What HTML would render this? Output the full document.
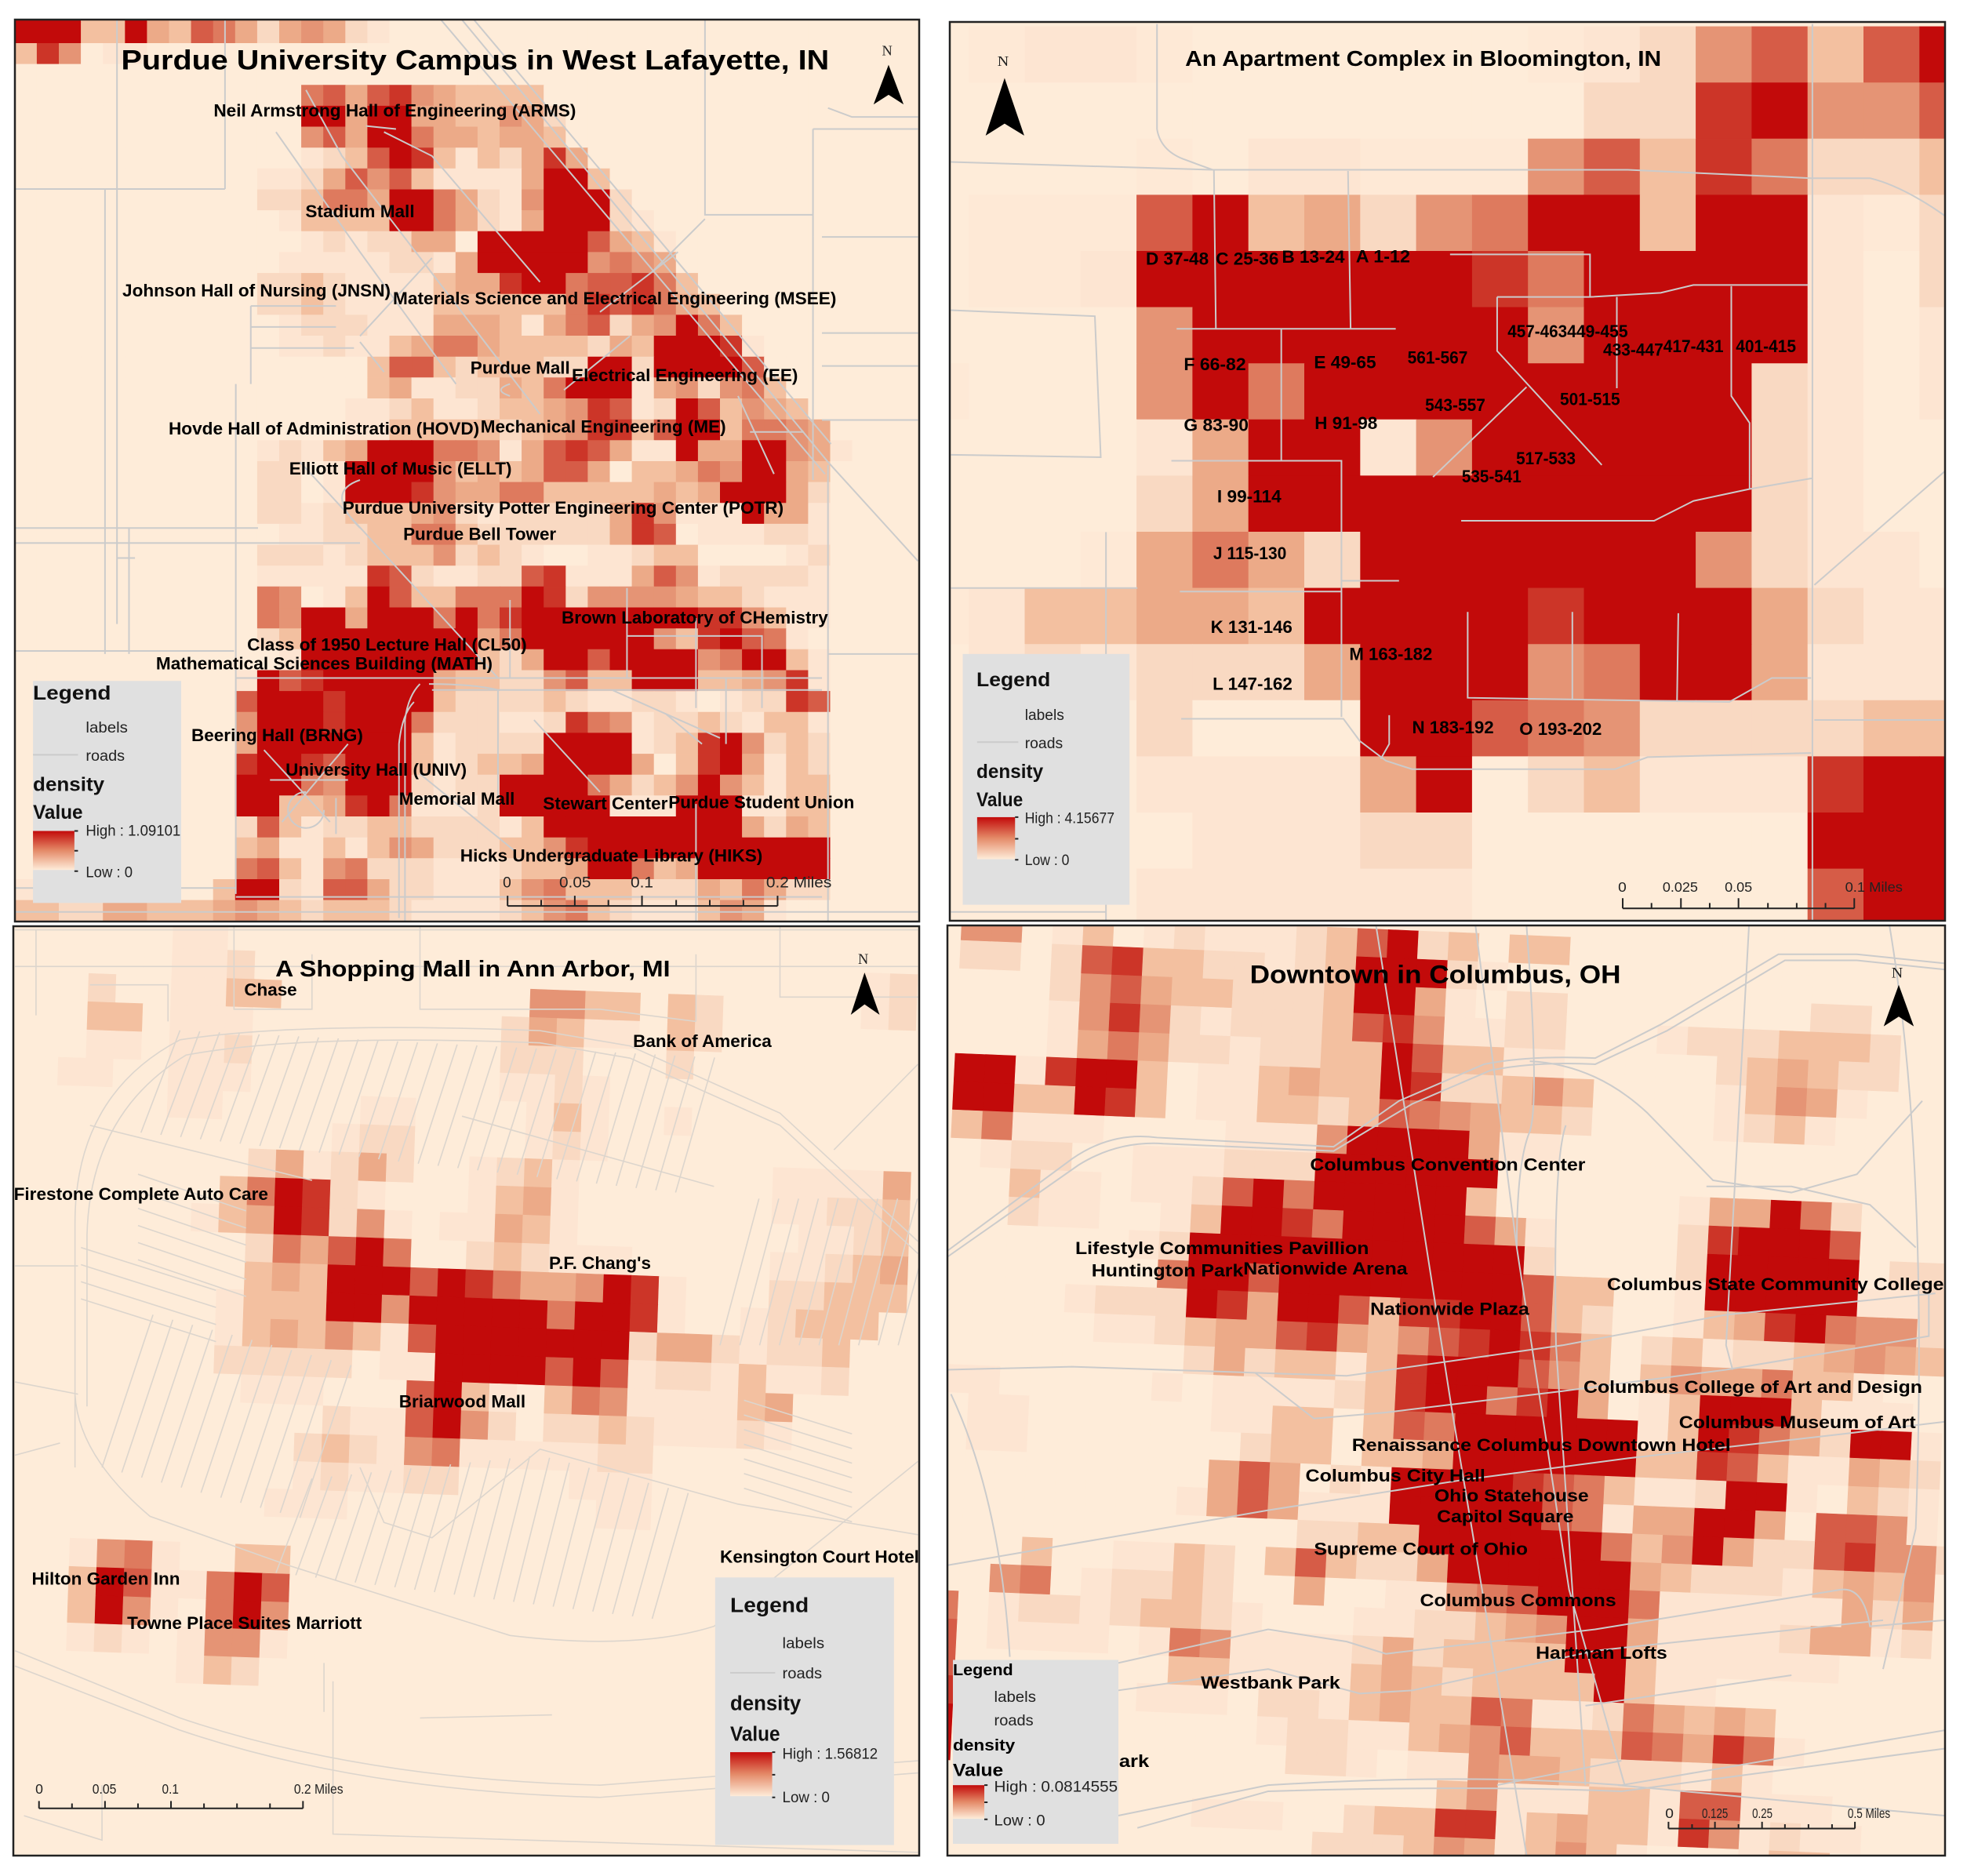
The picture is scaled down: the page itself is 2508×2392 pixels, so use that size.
<!DOCTYPE html>
<html lang="en">
<head>
<meta charset="utf-8">
<title>Density maps</title>
<style>
html,body{margin:0;padding:0;background:#fff}
svg{display:block}
text{font-family:"Liberation Sans",sans-serif;fill:#000}
.lb{font-weight:bold;font-size:29px}
.tt{font-weight:bold}
.lg{font-weight:bold;font-size:33px;fill:#111}
.ln{font-size:25px;fill:#222}
.sb{font-size:23px;fill:#222}
.n{font-family:"Liberation Serif",serif;font-size:24px;fill:#222}
.r{fill:none;stroke:#cbcbcb;stroke-width:2;vector-effect:non-scaling-stroke}
.r2{fill:none;stroke:#dcd5cd;stroke-width:1.6;vector-effect:non-scaling-stroke}
.t{fill:none;stroke:#222;stroke-width:2;vector-effect:non-scaling-stroke}
</style>
</head>
<body>
<svg xmlns="http://www.w3.org/2000/svg" width="2508" height="2392" viewBox="0 0 2508 2392">
<defs>
<linearGradient id="ramp" x1="0" y1="0" x2="0" y2="1"><stop offset="0" stop-color="#c20a0a"/><stop offset="0.5" stop-color="#e48a68"/><stop offset="1" stop-color="#feecd9"/></linearGradient>
</defs>
<rect x="0" y="0" width="2508" height="2392" fill="#fff"/>

<!-- PANEL 1 -->
<svg x="19" y="25" width="1153" height="1150" viewBox="19 25 1153 1150">
<rect x="19" y="25" width="1153" height="1150" fill="#feecd9"/>
<g id="purdue-cells"></g>
<g transform="scale(0.765)">
<path class="r" d="M25 315H375M195 33V1040M175 315V1090M25 1085H390M375 33V315M393 640V1490M25 880H430M25 905H600M215 880V1090M195 930H225M418 510V640M418 510H560M418 545H560M418 580H590M790 33L1385 740M770 33L1380 770M735 33L1375 790M1380 770L1530 935M1380 775V1536M1530 610H1370M1355 215V800M1355 215H1530M1175 33V358H1355M1380 180L1420 195H1530M1370 395H1530M1370 555H1530M1370 700H1530M1175 365L1090 450M1130 420L1000 520M1530 1090H1380M393 1130H1370M700 1140Q680 1160 675 1200V1536M720 1150H1370M690 1170Q670 1190 665 1240V1530M393 1495H1370M25 1480H393M25 1520H1530M510 150L570 260L900 690M600 560L720 430M500 770L830 1130M640 220L720 260L900 470M460 220L600 420L760 640M610 210L660 215M600 570L640 620M850 1000V1130M1045 980V1130M1160 1030V1180M1045 1060H1270V1180M850 640Q820 650 850 660M600 800Q540 820 600 880M715 1140Q790 1140 830 1150V1330M890 1200L1000 1320M700 1290L860 1420M1020 1150L1200 1230M1230 660L1290 790M1250 720H1340M940 650L1050 560M1160 1340V1580M1210 1130V1240M560 1330V1390M450 1300H580M510 1320A30 30 0 1 0 540 1350M440 1250L550 1370M580 1240L470 1370M1110 1190L1170 1240"/>
</g>
<g transform="scale(0.765)">
<text class="tt" font-size="46" x="202" y="116" textLength="1180" lengthAdjust="spacingAndGlyphs">Purdue University Campus in West Lafayette, IN</text>
<text class="lb" x="356" y="194" textLength="604" lengthAdjust="spacingAndGlyphs">Neil Armstrong Hall of Engineering (ARMS)</text>
<text class="lb" x="509" y="362" textLength="182" lengthAdjust="spacingAndGlyphs">Stadium Mall</text>
<text class="lb" x="204" y="494" textLength="447" lengthAdjust="spacingAndGlyphs">Johnson Hall of Nursing (JNSN)</text>
<text class="lb" x="655" y="507" textLength="739" lengthAdjust="spacingAndGlyphs">Materials Science and Electrical Engineering (MSEE)</text>
<text class="lb" x="784" y="623" textLength="166" lengthAdjust="spacingAndGlyphs">Purdue Mall</text>
<text class="lb" x="953" y="635" textLength="377" lengthAdjust="spacingAndGlyphs">Electrical Engineering (EE)</text>
<text class="lb" x="281" y="724" textLength="518" lengthAdjust="spacingAndGlyphs">Hovde Hall of Administration (HOVD)</text>
<text class="lb" x="801" y="721" textLength="409" lengthAdjust="spacingAndGlyphs">Mechanical Engineering (ME)</text>
<text class="lb" x="482" y="791" textLength="371" lengthAdjust="spacingAndGlyphs">Elliott Hall of Music (ELLT)</text>
<text class="lb" x="571" y="856" textLength="735" lengthAdjust="spacingAndGlyphs">Purdue University Potter Engineering Center (POTR)</text>
<text class="lb" x="672" y="900" textLength="255" lengthAdjust="spacingAndGlyphs">Purdue Bell Tower</text>
<text class="lb" x="936" y="1039" textLength="444" lengthAdjust="spacingAndGlyphs">Brown Laboratory of CHemistry</text>
<text class="lb" x="412" y="1084" textLength="466" lengthAdjust="spacingAndGlyphs">Class of 1950 Lecture Hall (CL50)</text>
<text class="lb" x="260" y="1116" textLength="561" lengthAdjust="spacingAndGlyphs">Mathematical Sciences Building (MATH)</text>
<text class="lb" x="319" y="1235" textLength="286" lengthAdjust="spacingAndGlyphs">Beering Hall (BRNG)</text>
<text class="lb" x="476" y="1293" textLength="302" lengthAdjust="spacingAndGlyphs">University Hall (UNIV)</text>
<text class="lb" x="665" y="1341" textLength="193" lengthAdjust="spacingAndGlyphs">Memorial Mall</text>
<text class="lb" x="905" y="1349" textLength="208" lengthAdjust="spacingAndGlyphs">Stewart Center</text>
<text class="lb" x="1114" y="1347" textLength="310" lengthAdjust="spacingAndGlyphs">Purdue Student Union</text>
<text class="lb" x="767" y="1436" textLength="504" lengthAdjust="spacingAndGlyphs">Hicks Undergraduate Library (HIKS)</text>
<text class="n" x="1470" y="92">N</text>
<polygon points="1481,108 1506,174 1481,158 1456,174" fill="#000"/>
<g>
<rect x="55" y="1135" width="247" height="370" fill="#e0e0e0"/>
<text class="lg" x="55" y="1166" textLength="130" lengthAdjust="spacingAndGlyphs">Legend</text>
<text class="ln" x="143" y="1221" textLength="70" lengthAdjust="spacingAndGlyphs">labels</text>
<line class="r" x1="55" y1="1258" x2="130" y2="1258"/>
<text class="ln" x="143" y="1268" textLength="65" lengthAdjust="spacingAndGlyphs">roads</text>
<text class="lg" x="55" y="1318" textLength="119" lengthAdjust="spacingAndGlyphs">density</text>
<text class="lg" x="55" y="1365" textLength="83" lengthAdjust="spacingAndGlyphs">Value</text>
<rect x="55" y="1385" width="69" height="65" fill="url(#ramp)"/>
<path class="t" d="M124 1385h6M124 1418h6M124 1452h6"/>
<text class="ln" x="143" y="1393" textLength="158" lengthAdjust="spacingAndGlyphs">High : 1.09101</text>
<text class="ln" x="143" y="1462" textLength="78" lengthAdjust="spacingAndGlyphs">Low : 0</text>
</g>
<g>
<path class="t" d="M846 1510H1296M846 1493V1510M902 1500V1510M958 1493V1510M1014 1500V1510M1070 1493V1510M1127 1500V1510M1183 1500V1510M1239 1500V1510M1296 1493V1510"/>
<text class="ln" x="838" y="1479">0</text>
<text class="ln" x="932" y="1479" textLength="53" lengthAdjust="spacingAndGlyphs">0.05</text>
<text class="ln" x="1051" y="1479" textLength="38" lengthAdjust="spacingAndGlyphs">0.1</text>
<text class="ln" x="1277" y="1479" textLength="109" lengthAdjust="spacingAndGlyphs">0.2 Miles</text>
</g>
</g>
</svg>
<rect x="19" y="25" width="1153" height="1150" fill="none" stroke="#222" stroke-width="2.5"/>

<!-- PANEL 2 -->
<svg x="1211" y="28" width="1269" height="1146" viewBox="1211 28 1269 1146">
<rect x="1211" y="28" width="1269" height="1146" fill="#feecd9"/>
<g id="bloomington-cells"></g>
<g transform="translate(1200,0) scale(0.834,0.765)">
<path class="r" d="M330 40V215Q335 250 370 265L415 283M15 270L415 283H1050L1330 297H1420Q1470 310 1535 360M417 283L420 547M622 285L626 547M360 548H695M520 548V767M352 768H612V1195M612 968H700M365 986H612M367 1198H615L640 1235L680 1268L720 1282H1030L1080 1262L1330 1255M685 1192V1240L672 1265M778 424H992V495M850 495H992L1100 488L1150 475H1325M850 495V585L1010 775M1033 495V647M1208 477V660L1236 705V815M895 645L752 795M795 868H1090L1150 835L1236 815L1332 797M805 1020V1163L1205 1170L1270 1130H1330M965 1020V1165M1127 1022L1125 1170M1332 40V1535M1335 975L1535 785M1335 1200H1535M15 517L235 527L244 762L15 758M15 980H300M252 887V1535M15 1520H252"/>
</g>
<g transform="translate(1200,0) scale(0.834,0.765)">
<text class="tt" font-size="36" x="373" y="110" textLength="728" lengthAdjust="spacingAndGlyphs">An Apartment Complex in Bloomington, IN</text>
<text class="lb" x="313" y="441" textLength="96" lengthAdjust="spacingAndGlyphs">D 37-48</text>
<text class="lb" x="420" y="441" textLength="96" lengthAdjust="spacingAndGlyphs">C 25-36</text>
<text class="lb" x="521" y="438" textLength="96" lengthAdjust="spacingAndGlyphs">B 13-24</text>
<text class="lb" x="634" y="437" textLength="83" lengthAdjust="spacingAndGlyphs">A 1-12</text>
<text class="lb" x="866" y="562" textLength="91" lengthAdjust="spacingAndGlyphs">457-463</text>
<text class="lb" x="957" y="562" textLength="93" lengthAdjust="spacingAndGlyphs">449-455</text>
<text class="lb" x="1012" y="593" textLength="92" lengthAdjust="spacingAndGlyphs">433-447</text>
<text class="lb" x="1104" y="587" textLength="92" lengthAdjust="spacingAndGlyphs">417-431</text>
<text class="lb" x="1215" y="587" textLength="92" lengthAdjust="spacingAndGlyphs">401-415</text>
<text class="lb" x="371" y="617" textLength="95" lengthAdjust="spacingAndGlyphs">F 66-82</text>
<text class="lb" x="570" y="614" textLength="95" lengthAdjust="spacingAndGlyphs">E 49-65</text>
<text class="lb" x="713" y="606" textLength="92" lengthAdjust="spacingAndGlyphs">561-567</text>
<text class="lb" x="740" y="685" textLength="92" lengthAdjust="spacingAndGlyphs">543-557</text>
<text class="lb" x="946" y="675" textLength="92" lengthAdjust="spacingAndGlyphs">501-515</text>
<text class="lb" x="371" y="718" textLength="99" lengthAdjust="spacingAndGlyphs">G 83-90</text>
<text class="lb" x="571" y="715" textLength="96" lengthAdjust="spacingAndGlyphs">H 91-98</text>
<text class="lb" x="879" y="774" textLength="91" lengthAdjust="spacingAndGlyphs">517-533</text>
<text class="lb" x="796" y="804" textLength="91" lengthAdjust="spacingAndGlyphs">535-541</text>
<text class="lb" x="422" y="837" textLength="98" lengthAdjust="spacingAndGlyphs">I 99-114</text>
<text class="lb" x="416" y="932" textLength="112" lengthAdjust="spacingAndGlyphs">J 115-130</text>
<text class="lb" x="412" y="1055" textLength="125" lengthAdjust="spacingAndGlyphs">K 131-146</text>
<text class="lb" x="624" y="1100" textLength="127" lengthAdjust="spacingAndGlyphs">M 163-182</text>
<text class="lb" x="415" y="1150" textLength="122" lengthAdjust="spacingAndGlyphs">L 147-162</text>
<text class="lb" x="720" y="1222" textLength="125" lengthAdjust="spacingAndGlyphs">N 183-192</text>
<text class="lb" x="884" y="1225" textLength="126" lengthAdjust="spacingAndGlyphs">O 193-202</text>
<text class="n" x="86" y="110">N</text>
<polygon points="97,130 127,226 97,206 68,226" fill="#000"/>
<g>
<rect x="33" y="1090" width="255" height="418" fill="#e0e0e0"/>
<text class="lg" x="54" y="1144" textLength="113" lengthAdjust="spacingAndGlyphs">Legend</text>
<text class="ln" x="128" y="1200" textLength="60" lengthAdjust="spacingAndGlyphs">labels</text>
<line class="r" x1="55" y1="1237" x2="118" y2="1237"/>
<text class="ln" x="128" y="1247" textLength="58" lengthAdjust="spacingAndGlyphs">roads</text>
<text class="lg" x="54" y="1297" textLength="102" lengthAdjust="spacingAndGlyphs">density</text>
<text class="lg" x="54" y="1344" textLength="71" lengthAdjust="spacingAndGlyphs">Value</text>
<rect x="55" y="1362" width="58" height="70" fill="url(#ramp)"/>
<path class="t" d="M113 1362h5M113 1398h5M113 1433h5"/>
<text class="ln" x="128" y="1372" textLength="137" lengthAdjust="spacingAndGlyphs">High : 4.15677</text>
<text class="ln" x="128" y="1442" textLength="68" lengthAdjust="spacingAndGlyphs">Low : 0</text>
</g>
<g>
<path class="t" d="M1042 1514H1396M1042 1497V1514M1086 1505V1514M1131 1497V1514M1175 1505V1514M1219 1497V1514M1264 1505V1514M1308 1505V1514M1352 1505V1514M1396 1497V1514"/>
<text class="sb" x="1035" y="1486">0</text>
<text class="sb" x="1103" y="1486" textLength="54" lengthAdjust="spacingAndGlyphs">0.025</text>
<text class="sb" x="1198" y="1486" textLength="42" lengthAdjust="spacingAndGlyphs">0.05</text>
<text class="sb" x="1382" y="1486" textLength="88" lengthAdjust="spacingAndGlyphs">0.1 Miles</text>
</g>
</g>
</svg>
<rect x="1211" y="28" width="1269" height="1146" fill="none" stroke="#222" stroke-width="2.5"/>

<!-- PANEL 3 -->
<svg x="17" y="1181" width="1155" height="1185" viewBox="17 1181 1155 1185">
<rect x="17" y="1181" width="1155" height="1185" fill="#feecd9"/>
<g id="annarbor-cells"></g>
<g transform="translate(0,1170) scale(0.765,0.779)">
<path id="annarbor-stripes" class="r2" d=""/>
<path class="r2" d="M125 900V500Q125 290 300 200Q500 170 900 185L1050 210L1300 320L1530 530M145 800V520Q150 320 310 225Q500 190 900 205L1050 230L1300 340L1530 550M125 780Q130 880 250 980L480 1060L850 1175Q1060 1200 1190 1160L1380 1010L1530 890M25 1200L300 1310Q600 1410 1000 1420L1530 1380M25 1225L300 1330Q600 1430 1000 1440L1530 1400M25 80H1530M25 20H1530M390 14V150H520V60M60 20V160M150 110H280V170M700 14V150H1000L1160 170M1160 60V170M1300 14V130H1530M25 570H130M25 880L100 860M150 340L520 430M770 325L1190 440M555 1250V1500L1530 1530M700 1310L920 1305M40 1470L170 1510V1420M1390 380L1530 240M25 760L130 780M540 1220V1300M600 900L640 990L720 1015L900 870L1230 960L1530 1010"/>
</g>
<g transform="translate(0,1170) scale(0.765,0.779)">
<text class="tt" font-size="37" x="459" y="96" textLength="658" lengthAdjust="spacingAndGlyphs">A Shopping Mall in Ann Arbor, MI</text>
<text class="lb" x="407" y="128" textLength="88" lengthAdjust="spacingAndGlyphs">Chase</text>
<text class="lb" x="1055" y="212" textLength="231" lengthAdjust="spacingAndGlyphs">Bank of America</text>
<text class="lb" x="23" y="462" textLength="424" lengthAdjust="spacingAndGlyphs">Firestone Complete Auto Care</text>
<text class="lb" x="915" y="575" textLength="170" lengthAdjust="spacingAndGlyphs">P.F. Chang's</text>
<text class="lb" x="665" y="802" textLength="211" lengthAdjust="spacingAndGlyphs">Briarwood Mall</text>
<text class="lb" x="1200" y="1056" textLength="332" lengthAdjust="spacingAndGlyphs">Kensington Court Hotel</text>
<text class="lb" x="53" y="1092" textLength="247" lengthAdjust="spacingAndGlyphs">Hilton Garden Inn</text>
<text class="lb" x="212" y="1164" textLength="391" lengthAdjust="spacingAndGlyphs">Towne Place Suites Marriott</text>
<text class="n" x="1430" y="76">N</text>
<polygon points="1441,90 1466,159 1441,142 1418,159" fill="#000"/>
<g>
<rect x="1192" y="1080" width="298" height="438" fill="#e0e0e0"/>
<text class="lg" x="1217" y="1137" textLength="131" lengthAdjust="spacingAndGlyphs">Legend</text>
<text class="ln" x="1304" y="1196" textLength="70" lengthAdjust="spacingAndGlyphs">labels</text>
<line class="r" x1="1217" y1="1236" x2="1292" y2="1236"/>
<text class="ln" x="1304" y="1245" textLength="66" lengthAdjust="spacingAndGlyphs">roads</text>
<text class="lg" x="1217" y="1297" textLength="118" lengthAdjust="spacingAndGlyphs">density</text>
<text class="lg" x="1217" y="1347" textLength="83" lengthAdjust="spacingAndGlyphs">Value</text>
<rect x="1217" y="1366" width="70" height="72" fill="url(#ramp)"/>
<path class="t" d="M1287 1366h5M1287 1403h5M1287 1440h5"/>
<text class="ln" x="1304" y="1377" textLength="159" lengthAdjust="spacingAndGlyphs">High : 1.56812</text>
<text class="ln" x="1304" y="1448" textLength="79" lengthAdjust="spacingAndGlyphs">Low : 0</text>
</g>
<g>
<path class="t" d="M65 1458H505M65 1446V1458M120 1450V1458M175 1446V1458M230 1450V1458M285 1446V1458M340 1450V1458M395 1450V1458M450 1450V1458M505 1446V1458"/>
<text class="sb" x="59" y="1434">0</text>
<text class="sb" x="154" y="1434" textLength="40" lengthAdjust="spacingAndGlyphs">0.05</text>
<text class="sb" x="270" y="1434" textLength="28" lengthAdjust="spacingAndGlyphs">0.1</text>
<text class="sb" x="490" y="1434" textLength="82" lengthAdjust="spacingAndGlyphs">0.2 Miles</text>
</g>
</g>
</svg>
<rect x="17" y="1181" width="1155" height="1185" fill="none" stroke="#222" stroke-width="2.5"/>

<!-- PANEL 4 -->
<svg x="1208" y="1180" width="1272" height="1186" viewBox="1208 1180 1272 1186">
<rect x="1208" y="1180" width="1272" height="1186" fill="#feecd9"/>
<g id="columbus-cells"></g>
<g transform="translate(1200,1170) scale(0.834,0.779)">
<path class="r" d="M665 14L780 800L895 1535M817 14L880 540L960 1100L1045 1420M895 14Q915 300 900 350Q880 400 880 540M955 340Q935 400 940 700L985 1420M1235 14L1200 700L1210 740M1450 14Q1510 400 1490 1000L1440 1230M10 545L200 395Q260 350 330 360L600 375L700 300L830 240Q900 225 1000 230L1100 175L1280 60H1400L1535 75M10 555L210 405Q270 365 340 370L600 382L720 305L840 250Q910 235 1000 240L1110 185L1290 70H1400L1535 85M900 235Q1000 240 1080 320L1180 430L1300 450L1400 420L1500 300M1170 440H1300L1420 470L1490 540M10 740L200 735L480 745L620 750L950 700L1200 650L1520 615M1510 615V685L1200 740L950 775L680 810M480 745L570 820L680 810M10 1060L500 970L800 920L1050 885L1380 845L1535 825M250 1225L500 1165L620 1185L680 1205L1000 1165L1375 1100Q1410 1095 1420 1160L1535 1150M270 1265L500 1230L640 1270L720 1265L1000 1200L1440 1150M270 1470L500 1420Q800 1400 1040 1420L1535 1330M300 1490L500 1430Q800 1420 1040 1430L1535 1360M850 1420L1040 1380M1035 1420L1535 1470M985 1290L1300 1240M15 780Q90 950 105 1210"/>
</g>
<g transform="translate(1200,1170) scale(0.834,0.779)">
<text class="tt" font-size="42" x="472" y="107" textLength="567" lengthAdjust="spacingAndGlyphs">Downtown in Columbus, OH</text>
<text class="lb" x="564" y="414" textLength="421" lengthAdjust="spacingAndGlyphs">Columbus Convention Center</text>
<text class="lb" x="205" y="551" textLength="449" lengthAdjust="spacingAndGlyphs">Lifestyle Communities Pavillion</text>
<text class="lb" x="230" y="587" textLength="232" lengthAdjust="spacingAndGlyphs">Huntington Park</text>
<text class="lb" x="462" y="584" textLength="251" lengthAdjust="spacingAndGlyphs">Nationwide Arena</text>
<text class="lb" x="656" y="650" textLength="243" lengthAdjust="spacingAndGlyphs">Nationwide Plaza</text>
<text class="lb" x="1018" y="610" textLength="515" lengthAdjust="spacingAndGlyphs">Columbus State Community College</text>
<text class="lb" x="982" y="778" textLength="518" lengthAdjust="spacingAndGlyphs">Columbus College of Art and Design</text>
<text class="lb" x="1128" y="836" textLength="362" lengthAdjust="spacingAndGlyphs">Columbus Museum of Art</text>
<text class="lb" x="628" y="873" textLength="579" lengthAdjust="spacingAndGlyphs">Renaissance Columbus Downtown Hotel</text>
<text class="lb" x="557" y="923" textLength="275" lengthAdjust="spacingAndGlyphs">Columbus City Hall</text>
<text class="lb" x="754" y="956" textLength="236" lengthAdjust="spacingAndGlyphs">Ohio Statehouse</text>
<text class="lb" x="758" y="990" textLength="209" lengthAdjust="spacingAndGlyphs">Capitol Square</text>
<text class="lb" x="570" y="1043" textLength="327" lengthAdjust="spacingAndGlyphs">Supreme Court of Ohio</text>
<text class="lb" x="732" y="1127" textLength="300" lengthAdjust="spacingAndGlyphs">Columbus Commons</text>
<text class="lb" x="909" y="1213" textLength="201" lengthAdjust="spacingAndGlyphs">Hartman Lofts</text>
<text class="lb" x="397" y="1262" textLength="213" lengthAdjust="spacingAndGlyphs">Westbank Park</text>
<text class="lb" x="272" y="1390" textLength="46" lengthAdjust="spacingAndGlyphs">ark</text>
<text class="n" x="1453" y="98">N</text>
<polygon points="1464,110 1487,178 1464,162 1441,178" fill="#000"/>
<g>
<rect x="18" y="1215" width="253" height="301" fill="#e0e0e0"/>
<text class="lb" style="font-size:26px" x="18" y="1240" textLength="92" lengthAdjust="spacingAndGlyphs">Legend</text>
<text class="ln" x="81" y="1284" textLength="64" lengthAdjust="spacingAndGlyphs">labels</text>
<text class="ln" x="81" y="1322" textLength="60" lengthAdjust="spacingAndGlyphs">roads</text>
<text class="lb" style="font-size:26px" x="18" y="1363" textLength="95" lengthAdjust="spacingAndGlyphs">density</text>
<text class="lb" style="font-size:28px" x="18" y="1405" textLength="77" lengthAdjust="spacingAndGlyphs">Value</text>
<rect x="18" y="1420" width="48" height="55" fill="url(#ramp)"/>
<path class="t" d="M66 1420h5M66 1448h5M66 1476h5"/>
<text class="ln" x="81" y="1431" textLength="189" lengthAdjust="spacingAndGlyphs">High : 0.0814555</text>
<text class="ln" x="81" y="1486" textLength="78" lengthAdjust="spacingAndGlyphs">Low : 0</text>
</g>
<g>
<path class="t" d="M1112 1491H1397M1112 1480V1491M1148 1484V1491M1183 1480V1491M1219 1484V1491M1255 1480V1491M1290 1484V1491M1326 1484V1491M1362 1484V1491M1397 1480V1491"/>
<text class="sb" x="1107" y="1474">0</text>
<text class="sb" x="1163" y="1474" textLength="40" lengthAdjust="spacingAndGlyphs">0.125</text>
<text class="sb" x="1240" y="1474" textLength="31" lengthAdjust="spacingAndGlyphs">0.25</text>
<text class="sb" x="1386" y="1474" textLength="65" lengthAdjust="spacingAndGlyphs">0.5 Miles</text>
</g>
</g>
</svg>
<rect x="1208" y="1180" width="1272" height="1186" fill="none" stroke="#222" stroke-width="2.5"/>
</svg>

<script>
// Density levels (0 = none, 9 = highest class) per grid row; missing trailing cells are 0.
const purdueDensity = [
[9,9,9,3,3,9,4,3,7,6,4,2,4,5,4,2,1],
[9,9,9,3,3,9,4,3,7,6,4,2,4,5,4,2,1],
[3,8,5,0,1,1],
[],
[0,0,0,0,0,0,0,0,0,0,0,0,0,6,7,4,7,8,5,4,3,3,3,3],
[0,0,0,0,0,0,0,0,0,0,0,0,0,9,9,4,9,9,4,4,3,3,5,4,2],
[0,0,0,0,0,0,0,0,0,0,0,0,0,5,7,4,9,9,6,4,4,3,4,4,3],
[0,0,0,0,0,0,0,0,0,0,0,0,0,1,2,3,7,9,8,3,1,3,2,4,8,4],
[0,0,0,0,0,0,0,0,0,0,0,1,1,2,4,7,5,7,3,1,1,1,1,4,9,9,3],
[0,0,0,0,0,0,0,0,0,0,0,2,2,3,6,6,4,9,9,6,4,2,1,5,9,9,9,2],
[0,0,0,0,0,0,0,0,0,0,0,0,1,3,3,3,3,9,9,6,4,2,1,4,9,9,9,2,1],
[0,0,0,0,0,0,0,0,0,0,0,0,0,1,2,1,2,2,4,4,0,9,9,9,9,9,7,4,3,1],
[0,0,0,0,0,0,0,0,0,0,0,0,1,1,1,1,1,2,2,1,4,9,9,9,9,9,5,6,5,4],
[0,0,0,0,0,0,0,0,0,0,0,2,2,3,2,1,1,1,1,3,4,4,8,9,9,6,7,7,8,6,3],
[0,0,0,0,0,0,0,0,0,0,0,2,2,3,2,1,1,1,1,3,3,3,3,3,3,6,8,7,8,6,4,3],
[0,0,0,0,0,0,0,0,0,0,0,0,1,2,2,2,1,1,1,4,4,4,3,1,4,6,7,2,4,5,9,6,3],
[0,0,0,0,0,0,0,0,0,0,0,0,1,1,2,1,1,3,4,6,6,4,3,3,3,3,2,4,3,9,9,9,8,1],
[0,0,0,0,0,0,0,0,0,0,0,0,0,0,0,0,3,7,7,3,2,3,3,3,2,2,9,9,2,9,9,9,9,7],
[0,0,0,0,0,0,0,0,0,0,0,0,0,0,0,0,3,4,1,1,2,2,4,3,6,9,9,9,1,4,5,2,5,6,3],
[0,0,0,0,0,0,0,0,0,0,0,0,0,0,0,1,1,2,3,1,1,2,3,3,4,5,8,7,1,2,9,7,3,5,4,3],
[0,0,0,0,0,0,0,0,0,0,0,0,0,0,0,1,1,3,3,3,3,3,2,3,4,5,8,8,3,7,9,9,3,6,6,5,4],
[0,0,0,0,0,0,0,0,0,0,0,1,2,1,3,4,9,9,9,6,6,5,1,4,7,8,7,4,1,1,9,4,4,9,9,5,4,1],
[0,0,0,0,0,0,0,0,0,0,0,2,2,0,1,9,9,9,9,5,3,4,3,4,7,7,4,0,3,3,4,6,5,9,9,4,3],
[0,0,0,0,0,0,0,0,0,0,0,2,2,0,1,9,9,9,8,5,4,4,6,6,3,3,3,3,3,4,3,4,9,9,9,4,2],
[0,0,0,0,0,0,0,0,0,0,0,2,2,1,2,3,3,3,4,5,2,1,2,2,2,2,2,4,8,5,1,1,1,9,4,4,1],
[0,0,0,0,0,0,0,0,0,0,0,0,1,1,2,2,3,3,6,6,3,2,2,2,2,2,2,4,8,7,0,1,1,1,2,2,1],
[0,0,0,0,0,0,0,0,0,0,0,2,2,2,1,2,3,3,3,5,2,3,2,1,0,0,1,1,2,3,3,0,0,0,0,1,2],
[0,0,0,0,0,0,0,0,0,0,0,1,1,1,1,1,8,7,2,1,1,2,2,7,8,1,1,1,4,7,5,1,2,2,2,2,1],
[0,0,0,0,0,0,0,0,0,0,0,6,5,0,1,3,9,7,3,3,6,6,6,9,8,2,5,5,5,5,4,3,3,2,1,1,1],
[0,0,0,0,0,0,0,0,0,0,0,6,5,9,9,4,9,9,9,6,9,6,8,9,9,9,9,9,9,9,9,8,8,5,3,1,1],
[0,0,0,0,0,0,0,0,0,0,0,2,3,9,9,9,9,9,9,9,9,4,6,9,9,9,9,9,9,5,3,8,9,7,6,1],
[0,0,0,0,0,0,0,0,0,0,0,0,1,9,9,9,9,9,9,9,9,3,2,4,9,9,7,9,9,9,9,5,6,9,9,3,1],
[0,0,0,0,0,0,0,0,0,0,1,9,7,8,9,9,9,9,9,4,3,3,2,2,5,7,3,3,9,9,9,3,3,4,5,8,1],
[0,0,0,0,0,0,0,0,0,0,7,9,9,9,8,9,9,9,9,3,2,2,2,2,3,2,1,1,2,2,1,0,1,2,2,8,7],
[0,0,0,0,0,0,0,0,0,0,5,9,9,9,8,9,9,9,6,2,2,2,1,1,2,8,6,5,1,2,2,3,2,1,3,3,1],
[0,0,0,0,0,0,0,0,0,0,4,9,9,9,9,9,9,9,3,1,2,2,2,2,9,9,9,9,1,2,3,8,9,5,2,3,2],
[0,0,0,0,0,0,0,0,0,0,8,9,9,8,7,9,9,9,3,1,2,3,3,4,9,9,9,9,4,0,3,8,9,4,1,3,2],
[0,0,0,0,0,0,0,0,0,0,9,9,9,6,5,9,9,9,2,1,2,2,9,9,9,9,6,4,2,3,5,9,5,3,1,3,3],
[0,0,0,0,0,0,0,0,0,0,9,9,3,3,4,8,9,6,1,1,1,2,9,9,9,9,9,1,1,1,9,9,9,1,1,3,3],
[0,0,0,0,0,0,0,0,0,0,2,7,3,1,2,2,3,3,2,2,2,2,1,3,9,9,9,9,9,9,9,9,9,4,2,4,3],
[0,0,0,0,0,0,0,0,0,0,3,4,1,1,3,1,3,5,4,2,2,2,3,3,5,8,9,9,9,9,9,9,9,9,9,9,9],
[0,0,0,0,0,0,0,0,0,0,6,7,3,1,5,6,2,2,2,1,1,1,2,3,3,4,9,9,6,3,4,9,9,9,9,9,9],
[1,1,1,0,0,0,0,0,0,3,9,9,2,1,7,7,4,2,2,1,1,1,3,5,6,3,3,3,2,2,2,4,3,6,4,2,2],
[3,3,2,2,4,4,3,3,3,4,5,4,3,2,3,3,3,2,1,1,1,1,2,3,5,6,3,2,1,1,1,3,5,4,1]
];
const bloomingtonDensity = [
[],
[0,0.5,1,1,0.5,0,0,0,0,0,0,0.5,1,2,5,7,3,7,9],
[0,0,0,0,0,0,0,0,0,0,0,0,2,2,8,9,5,5,7],
[0,0,0,0,0.5,0,1,1,0.5,0.5,0.5,5,7,3,8,6,2,2,3],
[0,0.5,0.5,0.5,7,9,3,4,2,5,6,9,9,3,9,9,1,0.5,2],
[0,0.5,0.5,1,9,9,9,9,9,9,8,6,9,9,9,9,1,0,2],
[0,0,0,0,5,9,9,9,9,9,9,5,9,9,9,9,1,0,1],
[0.5,0,0,0,5,9,6,9,9,9,9,9,9,9,9,2,1,0,1],
[0,0,0,0,1,4,9,9,1,5,9,9,9,9,9,2,1,0,0],
[0,0,0,0,2,4,9,9,9,9,9,9,9,9,9,2,1,0,0],
[0,0,0,0.5,4,6,4,2,9,9,9,9,9,9,5,2,1,1,0],
[0.5,1,3,3,4,4,3,9,9,9,9,8,9,9,9,4,2,1,1],
[0,1,2,1,2,2,2,4,9,9,9,5,6,9,9,4,1,1,1],
[0,0,0,0,2,0,0,0,9,9,7,6,5,2,2,2,2,3,3],
[0,0,0,0,1,1,1,1,4,9,0,2,3,1,1,1,8,9,9],
[0,0,0,0,0,1,1,1,2,2,0,0,0,0,0,0,9,9,9],
[0,0,0,0,1,1,1,1,1,1,0,0,0,0,0,0,7,9,9]
];
const annArborDensity = [
[],
[0,0,0,0,0,0,0,1,1],
[0,0,0,0,0,0,0,1,1,2,0,0,0,0,0,0,0,0,0,0,0,0,0,0,0,0,0,0,0,0,0,0,1,2],
[0,0,0,0,2,0,0,1,1,3,3,0,0,0,0,0,0,0,0,0,5,5,3,3,0,3,2,0,0,0,0,0,1,2],
[0,0,0,0,3,3,0,1,1,1,0,0,0,0,0,0,0,0,0,2,4,3,1,1,0,3,2],
[0,0,0,0,1,1,0,1,1,2,0,0,0,0,0,0,0,0,0,2,2,2,0,0,0,2],
[0,0,0,1,1,0,0,1,1,1,0,0,0,0,0,0,0,0,0,1,1,2,1],
[0,0,0,0,0,0,0,1,1,0,0,0,0,0,1,1,0,0,0,0,1,3,1,0,0,1],
[0,0,0,0,0,0,0,0,0,0,0,0,0,1,2,2,0,0,0,0,1,2,1],
[0,0,0,0,0,0,0,0,0,0,2,4,1,2,4,2,0,0,1,2,3,1,0,0,0,0,0,0,0,1,1,1,1,4],
[0,0,0,0,0,0,0,0,0,3,6,9,8,2,1,0,0,0,1,3,4,1,0,0,0,0,0,0,0,1,1,2,2,3],
[0,0,0,0,0,0,0,0,1,3,4,9,8,2,5,1,0,1,1,4,3,1,0,0,0,0,0,0,0,0,1,1,2,3],
[0,0,0,0,0,0,0,0,0,0,2,6,4,7,9,6,0,0,2,3,2,1,1,1,0,0,0,0,0,1,1,2,3,4],
[0,0,0,0,0,0,0,0,0,0,3,4,3,9,9,9,7,9,8,6,4,4,5,9,8,1,0,0,0,2,2,3,3,3],
[0,0,0,0,0,0,0,0,0,1,3,3,3,9,9,5,9,9,9,9,9,6,9,9,8,1,0,0,1,2,3,3,3],
[0,0,0,0,0,0,0,0,0,1,3,4,3,5,3,1,7,9,9,9,9,9,9,9,2,4,4,2,1,2,2,3],
[0,0,0,0,0,0,0,0,0,2,2,2,2,2,0,1,1,9,9,9,9,7,9,7,1,2,2,1,3,1,1,2],
[0,0,0,0,0,0,0,0,0,0,1,1,1,0,0,0,7,9,3,1,0,3,6,5,1,1,1,1,3,4],
[0,0,0,0,0,0,0,0,0,0,0,0,0,2,1,1,7,9,5,2,0,2,2,3,2,1,1,1,2,1],
[0,0,0,0,0,0,0,0,0,0,0,0,2,3,2,1,5,6,1,1,1,1,1,2,2],
[0,0,0,0,0,0,0,0,0,0,0,0,1,2,1,1,2,2,0,0,0,0,1,1,1],
[0,0,0,0,0,0,0,0,0,0,0,1,1,1,0,0,0,0,0,0,0,0,0,1,1],
[],
[0,0,0,0,1,5,6,1,0,0,3,3],
[0,0,0,0,3,9,7,1,1,6,9,7],
[0,0,0,0,3,9,5,1,0,6,9,5],
[0,0,0,0,1,2,1,0,1,5,5,1],
[0,0,0,0,0,0,0,0,1,3,2],
[],[],[],[],[],[],[]
];
const columbusDensity = [
[],
[0,5,5,0,1,3,0,1,2,1,1,1,2,3,7,9,2,3,0,3,3],
[0,2,2,0,2,7,8,3,3,2,2,1,2,3,9,9,9,2,1],
[0,0,0,0,2,5,7,4,3,3,2,2,2,3,9,9,4,1,0,2,2,0,0,0,0,0,0,0,0,2,2],
[0,0,0,0,1,5,8,5,2,1,2,2,2,3,7,8,5,1,1,2,2,0,0,0,1,2,2,2,3,3,3,2],
[0,0,0,0,1,4,6,4,2,2,1,2,2,3,3,9,7,3,3,1,1,0,0,0,0,0,2,3,4,3,2,2],
[0,9,9,1,8,9,9,3,0,1,1,3,4,3,3,9,8,2,2,3,5,3,0,0,0,0,1,3,5,4,1],
[0,9,9,3,3,9,8,3,0,1,1,3,3,2,3,7,6,5,4,3,3,2,0,0,0,0,1,2,3,1],
[0,3,6,1,1,1,0,0,0,0,1,1,1,5,9,9,9,9,4,1,1],
[0,0,1,2,2,0,0,1,1,1,2,2,2,9,9,9,9,9,9],
[0,0,0,3,1,1,0,1,1,2,7,9,6,9,9,9,9,9,3,0,0,0,0,0,0,1,4,4,9,6,2],
[0,0,0,2,1,1,0,0,1,3,9,9,8,6,9,9,9,9,7,4,1,0,0,0,0,2,8,9,9,9,7],
[0,0,0,0,0,0,0,1,2,9,9,9,9,9,9,9,9,9,9,9,2,0,0,0,0,2,9,9,9,9,9,0,2,2],
[0,0,0,0,0,0,0,0,6,9,9,7,9,9,9,9,9,9,9,9,7,3,3,0,0,1,9,9,9,9,9,1,1,2],
[0,0,0,0,0,1,2,2,2,9,8,4,9,9,7,3,8,8,9,9,7,3,2,0,0,1,3,4,8,9,6,5,5,2],
[0,0,0,0,0,0,1,1,2,3,4,4,7,8,4,3,5,7,8,9,8,6,3,0,2,3,1,2,2,3,4,5,4,3],
[0,0,0,0,0,0,0,0,0,2,4,2,3,3,1,3,8,9,9,9,7,5,3,0,3,5,4,4,6,3,3,1],
[0,1,1,0,0,0,0,0,1,0,1,1,1,1,2,3,8,9,9,6,8,9,4,0,1,3,9,9,9,3,1,1,1],
[0,0,1,1,0,0,0,0,0,0,1,1,3,3,0,3,7,6,9,9,9,9,9,9,1,3,9,8,6,4,2,9,9,1],
[0,0,1,1,0,0,0,0,0,0,0,2,3,3,0,3,3,4,9,9,9,9,9,9,3,3,8,7,3,1,1,4,3,2],
[0,0,0,0,0,0,0,0,0,0,4,7,4,0,2,1,9,9,9,9,8,7,6,3,1,1,2,9,9,1,0,3,2,1],
[0,0,0,0,0,0,0,0,0,1,4,7,4,1,1,1,9,9,9,9,9,7,6,1,4,4,9,9,4,0,7,7,5,1],
[0,0,0,0,0,0,0,0,0,0,0,0,0,2,2,3,3,9,9,9,9,9,9,6,3,5,9,4,2,2,7,8,5,5,2],
[0,0,0,0,3,0,0,1,1,3,2,0,3,7,3,2,2,4,9,9,9,9,9,9,4,3,2,2,2,1,3,4,3,5],
[0,0,0,5,6,0,1,2,2,3,2,0,0,4,0,0,1,1,5,6,7,9,9,9,6,1,1,1,1,1,1,4,2,4],
[0,6,0,1,2,2,1,2,3,3,2,1,0,0,0,1,1,2,2,3,4,5,9,9,4,1,1,1,1,2,4,4,1,2],
[0,7,0,1,1,1,1,0,1,6,5,1,1,1,1,2,4,2,3,3,3,3,9,9,3,1,1,1,1,1,1],
[0,7,0,0,0,0,0,0,0,3,3,1,1,1,1,3,4,3,2,3,3,3,3,9,3,1,1],
[0,8,0,0,0,0,0,0,1,1,1,0,2,2,1,3,4,3,3,7,6,1,1,2,6,4,3,4,3],
[0,9,0,0,0,0,0,0,0,0,0,0,1,2,2,1,1,3,4,5,7,3,3,3,7,6,4,8,6,1],
[0,9,0,0,0,0,0,0,0,0,0,0,0,2,2,1,0,1,1,5,4,4,3,2,2,2,1,3,1],
[0,0,0,0,0,0,0,0,0,0,0,0,0,0,0,0,0,0,3,5,1,1,1,3,3,1,7,7,1,1,1],
[0,0,0,0,0,0,0,0,0,0,1,1,1,0,0,2,3,3,8,8,1,3,4,3,3,1,8,5,1,2,1,1],
[0,0,0,0,0,0,0,0,0,0,0,0,0,0,2,2,2,3,5,4,1,3,5,3,1,0,0,0,1,3,3],
[0,0,0,0,0,0,0,0,0,0,0,0,0,0,0,1,2,3,5,3,1,2,5,2,1]
];

// Grid geometry for each map (origin and the vectors between neighbouring columns / rows, in page pixels).
const purdueGrid = {x0:19.1, y0:1.95, colDx:28.1, colDy:0, rowDx:0, rowDy:26.65, cols:41};
const bloomingtonGrid = {x0:1164.2, y0:-37.7, colDx:71.3, colDy:0, rowDx:0, rowDy:71.6, cols:19};
const annArborGrid = {x0:-23.9, y0:1128.2, colDx:35.2, colDy:1.25, rowDx:-1.2, rowDy:36, cols:37};
const columbusGrid = {x0:1190, y0:1125.4, colDx:38.8, colDy:1.6, rowDx:-1.8, rowDy:36, cols:36};

const levelColors = ['#feecd9','#fde5d2','#f9d9c2','#f3c0a0','#ecaa88','#e59475','#de7a5e','#d65c47','#cc3528','#c20a0a'];

function colorScale(v){
  const t = Math.max(0, Math.min(levelColors.length - 1, v));
  const lo = Math.floor(t), hi = Math.ceil(t);
  if (lo === hi) return levelColors[lo];
  const p = (s, i) => parseInt(s.slice(i, i + 2), 16);
  const mix = i => Math.round(p(levelColors[lo], i) + (p(levelColors[hi], i) - p(levelColors[lo], i)) * (t - lo));
  return 'rgb(' + mix(1) + ',' + mix(3) + ',' + mix(5) + ')';
}
function xAxis(g, c, r){ return g.x0 + c * g.colDx + r * g.rowDx; }
function yAxis(g, c, r){ return g.y0 + c * g.colDy + r * g.rowDy; }

function drawHeatmap(id, rows, grid){
  const host = document.getElementById(id);
  const NS = 'http://www.w3.org/2000/svg';
  rows.forEach(function(row, r){
    for (let c = 0; c < grid.cols; c++){
      const v = row[c] === undefined ? 0 : row[c];
      const pts = [[c,r],[c+1,r],[c+1,r+1],[c,r+1]].map(function(p){
        return xAxis(grid, p[0], p[1]).toFixed(1) + ',' + yAxis(grid, p[0], p[1]).toFixed(1);
      }).join(' ');
      const el = document.createElementNS(NS, 'polygon');
      el.setAttribute('points', pts);
      el.setAttribute('fill', colorScale(v));
      el.setAttribute('stroke', colorScale(v));
      el.setAttribute('stroke-width', '0.6');
      
      
      el.setAttribute('data-value', v);
      host.appendChild(el);
    }
  });
}
drawHeatmap('purdue-cells', purdueDensity, purdueGrid);
drawHeatmap('bloomington-cells', bloomingtonDensity, bloomingtonGrid);
drawHeatmap('annarbor-cells', annArborDensity, annArborGrid);
drawHeatmap('columbus-cells', columbusDensity, columbusGrid);

// Parking-lot style road stripes around the Ann Arbor mall.
(function(){
  let d = '';
  for (let x = 290; x <= 1190; x += 33) d += 'M' + (x - 55) + ' ' + (320 + x * 0.11) + 'L' + (x + 10) + ' ' + (170 + x * 0.05);
  for (let x = 520; x <= 1170; x += 33) d += 'M' + (x - 60) + ' ' + (1070 + (x - 500) * 0.12) + 'L' + x + ' ' + (880 + (x > 900 ? (x - 900) * 0.25 : (900 - x) * 0.1));
  for (let x = 170; x <= 500; x += 33) d += 'M' + x + ' ' + (900 + (x - 170) * 0.25) + 'L' + (x + 85) + ' ' + (650 + (x - 170) * 0.25);
  for (let y = 790; y <= 950; y += 24) d += 'M1240 ' + y + 'L1420 ' + (y + 55);
  for (let y = 420; y <= 560; y += 28) d += 'M230 ' + y + 'L410 ' + (y + 60);
  for (let y = 540; y <= 640; y += 28) d += 'M135 ' + y + 'L360 ' + (y + 70);
  for (let x = 1200; x <= 1520; x += 33) d += 'M' + x + ' 700L' + (x + 65) + ' 460';
  document.getElementById('annarbor-stripes').setAttribute('d', d);
})();
</script>
</body>
</html>
